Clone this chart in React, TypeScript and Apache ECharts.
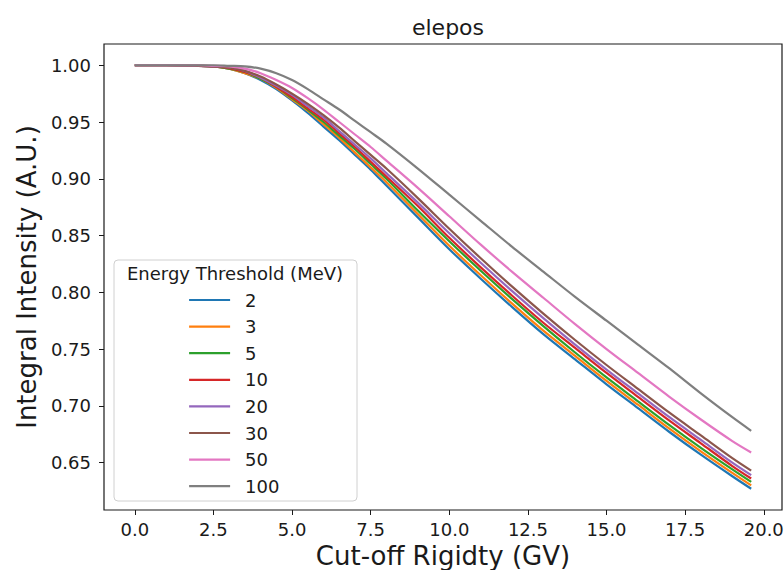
import React, { useEffect, useRef } from "react";
import * as echarts from "echarts";

const xValues = [0, 1, 2, 2.5, 3, 3.5, 4, 4.5, 5, 5.5, 6, 6.5, 7, 7.5, 8, 9, 10, 11, 12, 13, 14, 15, 16, 17, 18, 19, 19.6];

const thresholds = ["2", "3", "5", "10", "20", "30", "50", "100"];
const colors = ["#1f77b4", "#ff7f0e", "#2ca02c", "#d62728", "#9467bd", "#8c564b", "#e377c2", "#7f7f7f"];

const mev2 = [1, 1, 0.9995, 0.999, 0.997, 0.993, 0.987, 0.979, 0.969, 0.958, 0.946, 0.934, 0.921, 0.908, 0.894, 0.866, 0.838, 0.812, 0.787, 0.763, 0.741, 0.719, 0.698, 0.677, 0.657, 0.638, 0.627];
const mev3 = [1, 1, 0.9995, 0.999, 0.997, 0.993, 0.988, 0.98, 0.97, 0.96, 0.948, 0.936, 0.923, 0.91, 0.897, 0.869, 0.841, 0.815, 0.79, 0.766, 0.744, 0.722, 0.701, 0.68, 0.66, 0.641, 0.63];
const mev5 = [1, 1, 0.9995, 0.999, 0.997, 0.994, 0.988, 0.981, 0.971, 0.961, 0.95, 0.938, 0.926, 0.913, 0.9, 0.872, 0.845, 0.819, 0.794, 0.77, 0.747, 0.725, 0.704, 0.683, 0.663, 0.644, 0.633];
const mev10 = [1, 1, 0.9995, 0.999, 0.9975, 0.994, 0.989, 0.981, 0.972, 0.962, 0.952, 0.94, 0.928, 0.915, 0.902, 0.876, 0.848, 0.822, 0.797, 0.773, 0.751, 0.729, 0.708, 0.687, 0.667, 0.647, 0.636];
const mev20 = [1, 1, 0.9995, 0.999, 0.998, 0.995, 0.989, 0.982, 0.974, 0.964, 0.954, 0.942, 0.93, 0.918, 0.905, 0.879, 0.852, 0.826, 0.801, 0.777, 0.754, 0.732, 0.711, 0.69, 0.67, 0.65, 0.639];
const mev30 = [1, 1, 0.9995, 0.999, 0.998, 0.995, 0.99, 0.983, 0.975, 0.966, 0.956, 0.945, 0.933, 0.921, 0.909, 0.883, 0.856, 0.83, 0.805, 0.781, 0.758, 0.736, 0.715, 0.694, 0.674, 0.654, 0.643];
const mev50 = [1, 1, 1, 0.9995, 0.999, 0.997, 0.993, 0.987, 0.98, 0.971, 0.961, 0.95, 0.939, 0.928, 0.916, 0.892, 0.867, 0.842, 0.818, 0.795, 0.772, 0.75, 0.729, 0.708, 0.688, 0.669, 0.659];
const mev100 = [1, 1, 1, 1, 0.9995, 0.999, 0.997, 0.993, 0.987, 0.979, 0.97, 0.961, 0.951, 0.941, 0.931, 0.909, 0.886, 0.863, 0.84, 0.818, 0.796, 0.775, 0.754, 0.733, 0.711, 0.69, 0.678];

const seriesValues = [mev2, mev3, mev5, mev10, mev20, mev30, mev50, mev100];

const xTicks = [0, 2.5, 5, 7.5, 10, 12.5, 15, 17.5, 20];
const yTicks = [0.65, 0.7, 0.75, 0.8, 0.85, 0.9, 0.95, 1.0];

const FONT = "DejaVu Sans";
const INK = "#1a1a1a";

export default function App() {
  const ref = useRef<HTMLDivElement>(null);
  useEffect(() => {
    if (!ref.current) return;
    const chart = echarts.init(ref.current, undefined, { renderer: "svg" });
    chart.setOption({
      animation: false,
      backgroundColor: "#ffffff",
      textStyle: { fontFamily: FONT },
      title: {
        text: "elepos",
        left: 443,
        textAlign: "center",
        top: 11,
        textStyle: { fontFamily: FONT, fontSize: 22, fontWeight: "normal", color: INK },
      },
      grid: {
        left: 104,
        right: 2,
        top: 44,
        bottom: 60,
        containLabel: false,
        outerBoundsMode: "none",
        show: true,
        borderColor: INK,
        borderWidth: 1.2,
        backgroundColor: "transparent",
      },
      legend: {
        orient: "vertical",
        left: 183,
        top: 286,
        z: 30,
        itemWidth: 41,
        itemHeight: 18,
        itemGap: 8.6,
        data: thresholds.map((t) => t + " "),
        itemStyle: { opacity: 0 },
        lineStyle: { width: 2.2 },
        textStyle: { fontFamily: FONT, fontSize: 18, color: INK, padding: [0, 0, 0, 10] },
      },
      graphic: [
        {
          type: "rect",
          shape: { x: 114, y: 260, width: 243, height: 241, r: 4 },
          style: { fill: "rgba(255,255,255,0.85)", stroke: "#d0d0d0", lineWidth: 1 },
          z: 20,
        },
        {
          type: "text",
          x: 235,
          y: 273,
          style: {
            text: "Energy Threshold (MeV)",
            fontFamily: FONT,
            fontSize: 18,
            fill: INK,
            align: "center",
            verticalAlign: "middle",
          },
          z: 31,
        },
      ],
      xAxis: {
        type: "value",
        min: -0.98,
        max: 20.58,
        name: "Cut-off Rigidty (GV)",
        nameLocation: "middle",
        nameGap: 32,
        nameTextStyle: { fontFamily: FONT, fontSize: 26, color: INK },
        splitLine: { show: false },
        axisLine: { show: false, onZero: false },
        axisTick: { show: true, customValues: xTicks, length: 5, lineStyle: { color: INK } },
        axisLabel: {
          customValues: xTicks,
          formatter: (v: number) => v.toFixed(1),
          fontFamily: FONT,
          fontSize: 18,
          color: INK,
          margin: 10,
        },
      },
      yAxis: {
        type: "value",
        min: 0.6083,
        max: 1.0187,
        name: "Integral Intensity (A.U.)",
        nameLocation: "middle",
        nameGap: 60,
        nameTextStyle: { fontFamily: FONT, fontSize: 26, color: INK },
        splitLine: { show: false },
        axisLine: { show: false, onZero: false },
        axisTick: { show: true, customValues: yTicks, length: 5, lineStyle: { color: INK } },
        axisLabel: {
          customValues: yTicks,
          formatter: (v: number) => v.toFixed(2),
          fontFamily: FONT,
          fontSize: 18,
          color: INK,
          margin: 13,
        },
      },
      series: thresholds.map((t, i) => ({
        name: t + " ",
        type: "line",
        data: xValues.map((x, j) => [x, seriesValues[i][j]]),
        symbol: "none",
        smooth: 0.3,
        lineStyle: { color: colors[i], width: 2.2 },
        itemStyle: { color: colors[i] },
        z: 2 + i,
      })),
    });
    return () => chart.dispose();
  }, []);
  return <div ref={ref} style={{ position: "fixed", left: 0, top: 0, width: 784, height: 570 }} />;
}
